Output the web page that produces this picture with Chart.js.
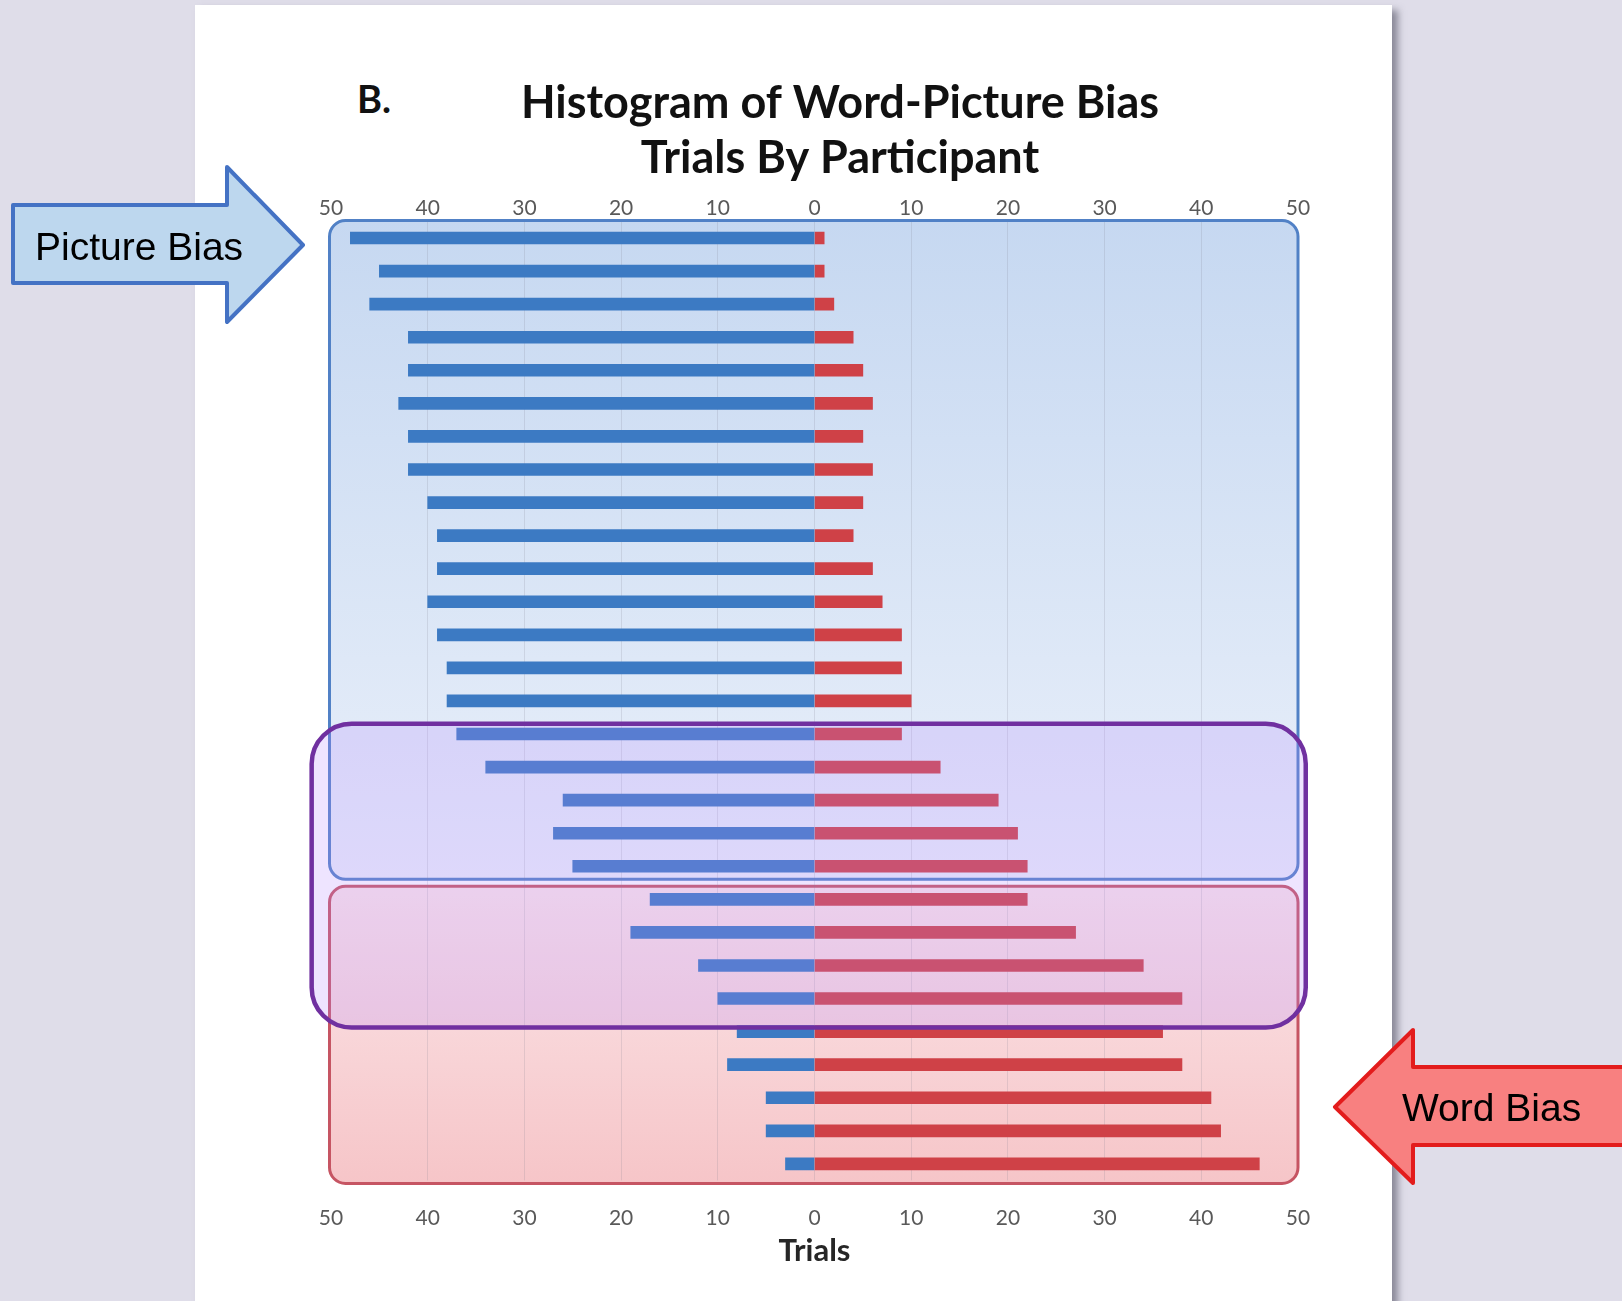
<!DOCTYPE html>
<html>
<head>
<meta charset="utf-8">
<title>Histogram of Word-Picture Bias</title>
<script src="https://cdn.jsdelivr.net/npm/chart.js@4.4.1/dist/chart.umd.min.js"></script>
<style>
  html, body { margin: 0; padding: 0; width: 1622px; height: 1301px; overflow: hidden; background: #dfdde9; }
  #page { position: absolute; left: 195px; top: 5px; width: 1197px; height: 1340px; background: #fff;
          box-shadow: 6px 5px 7px rgba(70, 70, 85, 0.55); }
  #chart { position: absolute; left: 0; top: 0; }
  #panel { position: absolute; left: 357px; top: 79px; font: bold 38px Lato, sans-serif; line-height: 38px; color: #111; }
  svg { position: absolute; left: 0; top: 0; }
</style>
</head>
<body>
<div id="page"></div>
<div id="panel">B.</div>
<canvas id="chart" width="1622" height="1301"></canvas>
<svg width="1622" height="1301">
  <polygon points="13,205 227,205 227,167 303,245 227,322 227,283 13,283"
           fill="#bdd7ee" stroke="#4472c4" stroke-width="4" stroke-linejoin="round"/>
  <text x="35" y="260" font-family="Liberation Sans, Arial, sans-serif" font-size="39" fill="#000">Picture Bias</text>
  <polygon points="1335,1107 1413,1030 1413,1067 1650,1067 1650,1145 1413,1145 1413,1183"
           fill="#f88080" stroke="#e31c1c" stroke-width="4" stroke-linejoin="round"/>
  <text x="1402" y="1121" font-family="Liberation Sans, Arial, sans-serif" font-size="39" fill="#000">Word Bias</text>
</svg>
<script>
// one row per participant, top to bottom
const participants = ['P1', 'P2', 'P3', 'P4', 'P5', 'P6', 'P7', 'P8', 'P9', 'P10',
  'P11', 'P12', 'P13', 'P14', 'P15', 'P16', 'P17', 'P18', 'P19', 'P20',
  'P21', 'P22', 'P23', 'P24', 'P25', 'P26', 'P27', 'P28', 'P29'];

// trials where the picture won (drawn to the left)
const pictureTrials = [48, 45, 46, 42, 42, 43, 42, 42, 40, 39, 39, 40, 39, 38, 38,
  37, 34, 26, 27, 25, 17, 19, 12, 10, 8, 9, 5, 5, 3];

// trials where the word won (drawn to the right)
const wordTrials = [1, 1, 2, 4, 5, 6, 5, 6, 5, 4, 6, 7, 9, 9, 10,
  9, 13, 19, 21, 22, 22, 27, 34, 38, 36, 38, 41, 42, 46];

// axis runs 50..0..50
const axisMin = -50;
const axisMax = 50;
const axisStep = 10;

// groups of rows (indexes into participants)
const pictureGroupLast = 19;     // rows 0-19 are in the blue box
const mixedGroupTop = 14.69;     // purple box, in row units
const mixedGroupBottom = 23.875;

const pictureColor = '#3c7ac3';
const wordColor = '#cf4147';

Chart.defaults.font.family = 'Lato, sans-serif';

function roundedRect(ctx, x, y, w, h, r) {
  ctx.beginPath();
  ctx.moveTo(x + r, y);
  ctx.arcTo(x + w, y, x + w, y + h, r);
  ctx.arcTo(x + w, y + h, x, y + h, r);
  ctx.arcTo(x, y + h, x, y, r);
  ctx.arcTo(x, y, x + w, y, r);
  ctx.closePath();
}

// the blue and red shaded boxes behind the bars
const biasBoxes = {
  id: 'biasBoxes',
  beforeDraw(chart) {
    const {ctx, chartArea, scales: {x, y}} = chart;
    const left = x.getPixelForValue(axisMin) - 1.5;
    const right = x.getPixelForValue(axisMax);
    const split = (y.getPixelForValue(pictureGroupLast) + y.getPixelForValue(pictureGroupLast + 1)) / 2;

    ctx.save();
    // picture bias box
    let top = chartArea.top - 1, bottom = split - 3.5;
    let grad = ctx.createLinearGradient(0, top, 0, bottom);
    grad.addColorStop(0, '#c6d8f1');
    grad.addColorStop(1, '#eaf0fa');
    roundedRect(ctx, left, top, right - left, bottom - top, 16);
    ctx.fillStyle = grad;
    ctx.fill();
    ctx.lineWidth = 3;
    ctx.strokeStyle = '#5181c6';
    ctx.stroke();

    // word bias box
    top = split + 3.5;
    bottom = chartArea.bottom + 3;
    grad = ctx.createLinearGradient(0, top, 0, bottom);
    grad.addColorStop(0, '#fbe6e9');
    grad.addColorStop(1, '#f6c5c8');
    roundedRect(ctx, left, top, right - left, bottom - top, 16);
    ctx.fillStyle = grad;
    ctx.fill();
    ctx.strokeStyle = '#c65563';
    ctx.stroke();
    ctx.restore();
  }
};

// the purple outline over the mixed rows
const mixedBox = {
  id: 'mixedBox',
  afterDatasetsDraw(chart) {
    const {ctx, scales: {x, y}} = chart;
    const left = x.getPixelForValue(-52);
    const right = x.getPixelForValue(50.8);
    const top = y.getPixelForValue(mixedGroupTop);
    const bottom = y.getPixelForValue(mixedGroupBottom);
    ctx.save();
    roundedRect(ctx, left, top, right - left, bottom - top, 40);
    ctx.fillStyle = 'rgba(180, 140, 255, 0.23)';
    ctx.fill();
    ctx.lineWidth = 4.5;
    ctx.strokeStyle = '#7030a0';
    ctx.stroke();
    ctx.restore();
  }
};

const tickOptions = {
  stepSize: axisStep,
  color: '#595959',
  font: { size: 21 },
  maxRotation: 0,
  callback: (value) => Math.abs(value)
};

new Chart(document.getElementById('chart'), {
  type: 'bar',
  data: {
    labels: participants,
    datasets: [{
      label: 'Picture Bias',
      data: pictureTrials.map(v => -v),
      backgroundColor: pictureColor,
      barThickness: 12
    }, {
      label: 'Word Bias',
      data: wordTrials,
      backgroundColor: wordColor,
      barThickness: 12
    }]
  },
  options: {
    indexAxis: 'y',
    responsive: false,
    animation: false,
    layout: {
      padding: { left: 331, right: 273, top: 76, bottom: 31.6 }
    },
    plugins: {
      legend: { display: false },
      tooltip: { enabled: false },
      title: {
        display: true,
        text: ['Histogram of Word-Picture Bias', 'Trials By Participant'],
        color: '#111',
        font: { size: 45, weight: 'bold', lineHeight: '55px' },
        padding: { top: 0, bottom: 0 }
      }
    },
    scales: {
      x: {
        position: 'top',
        min: axisMin,
        max: axisMax,
        stacked: true,
        ticks: { ...tickOptions, padding: 1 },
        grid: {
          drawTicks: false,
          color: (c) => Math.abs(c.tick.value) === 50 ? 'rgba(0,0,0,0)' : 'rgba(120,120,140,0.18)'
        },
        border: { display: false },
        afterFit: (s) => { s.height = 35.5; }
      },
      x2: {
        type: 'linear',
        position: 'bottom',
        min: axisMin,
        max: axisMax,
        ticks: { ...tickOptions, padding: 17.5 },
        grid: { display: false },
        border: { display: false },
        title: {
          display: true,
          text: 'Trials',
          color: '#262626',
          font: { size: 31, weight: 'bold' },
          padding: { top: 0, bottom: 0 }
        },
        afterFit: (s) => { s.height = 89; }
      },
      y: {
        position: 'right',
        stacked: true,
        ticks: { display: false },
        grid: { display: false },
        border: { display: false },
        afterFit: (s) => { s.width = 51; }
      }
    }
  },
  plugins: [biasBoxes, mixedBox]
});
</script>
</body>
</html>
